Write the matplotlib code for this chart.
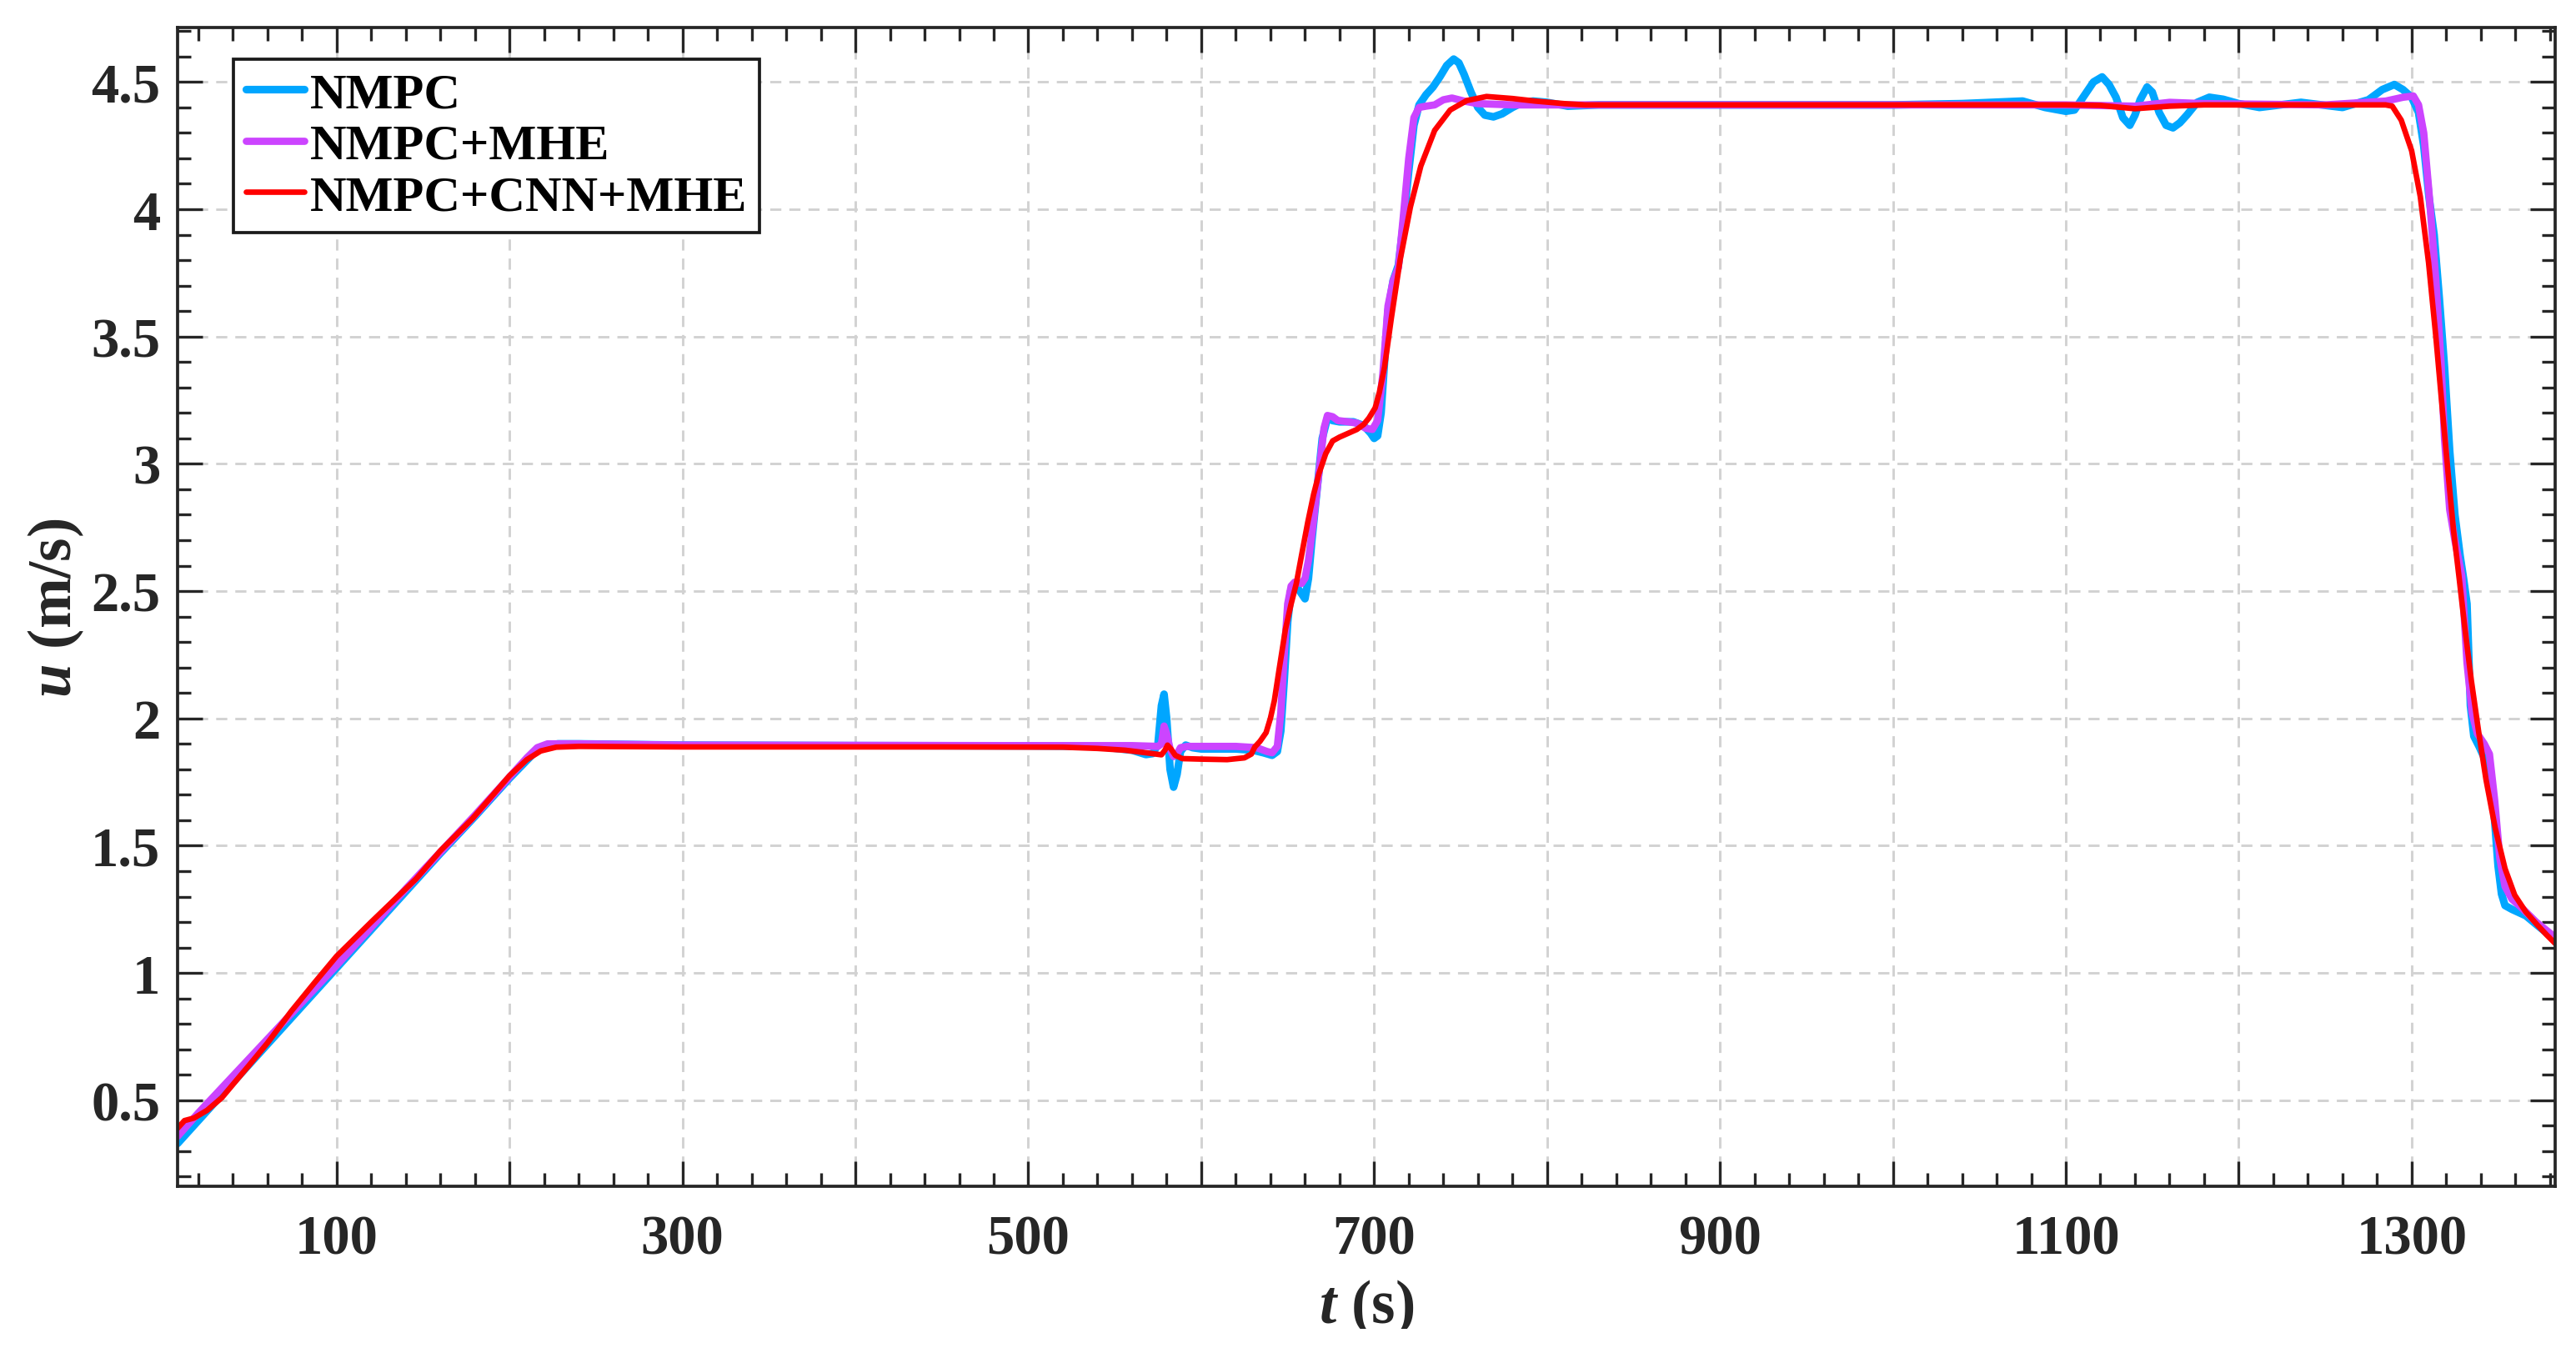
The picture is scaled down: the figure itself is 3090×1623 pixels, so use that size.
import numpy as np
import matplotlib
matplotlib.use("Agg")
import matplotlib.pyplot as plt
from matplotlib.ticker import AutoMinorLocator
from matplotlib.transforms import Bbox

# ---------------- data ----------------
t_nmpc = [8, 20, 40, 60, 80, 100, 120, 140, 160, 180, 200, 210, 215, 220, 228, 240, 300, 400, 500,
          540, 560, 568, 572, 575, 577, 578.5, 580, 582, 584, 586, 588, 591, 595, 600, 620, 630, 636,
          641, 644, 646, 648, 650, 652, 654, 657, 660, 662, 664, 667, 670, 673, 676, 680, 688, 694,
          698, 700, 702, 704, 706, 708, 711, 714, 717, 720, 723, 726, 730, 734, 738, 742, 746, 749,
          752, 756, 760, 764, 769, 774, 780, 786, 792, 800, 812, 830, 900, 1000, 1040, 1075, 1088,
          1100, 1105, 1110, 1116, 1121, 1125, 1129, 1133, 1137, 1140, 1143, 1147, 1150, 1154, 1158,
          1162, 1166, 1170, 1176, 1183, 1191, 1200, 1212, 1236, 1260, 1275, 1283, 1290, 1295, 1300,
          1304, 1307, 1310, 1313, 1316, 1319, 1322, 1325, 1328, 1330, 1332, 1334, 1336, 1339, 1343,
          1346, 1348, 1350, 1352, 1354, 1358, 1366, 1374, 1383]
u_nmpc = [0.33, 0.42, 0.57, 0.72, 0.87, 1.02, 1.17, 1.32, 1.47, 1.615, 1.765, 1.835, 1.87, 1.89, 1.9,
          1.9, 1.895, 1.893, 1.892, 1.89, 1.875, 1.858, 1.862, 1.9, 2.05, 2.095, 2.0, 1.8, 1.73, 1.78,
          1.87, 1.895, 1.885, 1.88, 1.88, 1.875, 1.865, 1.855, 1.87, 1.95, 2.15, 2.38, 2.5, 2.53, 2.5,
          2.47, 2.55, 2.7, 2.9, 3.1, 3.18, 3.17, 3.165, 3.165, 3.15, 3.12, 3.10, 3.11, 3.2, 3.4, 3.6,
          3.72, 3.78, 3.95, 4.15, 4.33, 4.41, 4.45, 4.48, 4.52, 4.565, 4.59, 4.575, 4.53, 4.46, 4.40,
          4.37, 4.363, 4.375, 4.40, 4.42, 4.425, 4.42, 4.405, 4.41, 4.41, 4.41, 4.415, 4.425, 4.40,
          4.385, 4.39, 4.44, 4.50, 4.52, 4.49, 4.44, 4.36, 4.33, 4.37, 4.43, 4.48, 4.46, 4.38, 4.33,
          4.32, 4.34, 4.37, 4.42, 4.44, 4.432, 4.415, 4.40, 4.42, 4.40, 4.43, 4.47, 4.49, 4.47, 4.44,
          4.38, 4.25, 4.05, 3.90, 3.65, 3.38, 3.05, 2.80, 2.64, 2.55, 2.45, 2.05, 1.93, 1.89, 1.83,
          1.75, 1.6, 1.42, 1.31, 1.265, 1.25, 1.225, 1.18, 1.13]

t_mhe = [8, 20, 40, 60, 80, 100, 120, 140, 160, 180, 200, 210, 216, 222, 240, 300, 500, 560, 575,
         577, 578.5, 580, 582, 584, 586, 588, 592, 620, 632, 638, 641, 644, 646, 648, 650, 652, 654,
         658, 660, 662, 665, 668, 671, 673, 676, 679, 685, 690, 695, 699, 702, 705, 708, 711, 714,
         717, 720, 723, 726, 730, 735, 740, 745, 752, 760, 780, 1000, 1100, 1140, 1160, 1180, 1250,
         1285, 1295, 1301, 1304, 1307, 1310, 1314, 1317, 1319, 1322, 1325, 1329, 1332, 1335, 1338,
         1342, 1345, 1348, 1351, 1354, 1358, 1363, 1372, 1383]
u_mhe = [0.358, 0.45, 0.595, 0.74, 0.885, 1.03, 1.18, 1.33, 1.475, 1.62, 1.77, 1.845, 1.885, 1.9, 1.9,
         1.895, 1.893, 1.893, 1.89, 1.9, 1.97, 1.94, 1.88, 1.85, 1.86, 1.885, 1.89, 1.89, 1.885, 1.87,
         1.865, 1.89, 2.02, 2.25, 2.45, 2.52, 2.535, 2.53, 2.55, 2.62, 2.78, 2.96, 3.14, 3.19, 3.185,
         3.17, 3.165, 3.16, 3.14, 3.135, 3.17, 3.35, 3.62, 3.72, 3.77, 3.98, 4.2, 4.36, 4.40, 4.405,
         4.41, 4.43, 4.437, 4.425, 4.415, 4.41, 4.41, 4.41, 4.405, 4.42, 4.415, 4.41, 4.425, 4.44,
         4.445, 4.41, 4.3, 4.07, 3.72, 3.4, 3.1, 2.82, 2.7, 2.56, 2.22, 2.02, 1.94, 1.9, 1.86, 1.68,
         1.45, 1.34, 1.29, 1.26, 1.2, 1.14]

t_cnn = [8, 12, 17.5, 25, 33.6, 41, 49.7, 60, 73.8, 87, 100, 120, 146, 160, 178.5, 200, 210, 218, 227,
         240, 300, 450, 520, 540, 556, 568, 577, 579, 580.5, 582.5, 585, 589, 600, 615, 625, 629, 631,
         634, 637.5, 640, 642.3, 645, 648.7, 652, 655, 658, 661.6, 665, 668, 672, 676, 680, 685, 690,
         694, 697, 700.6, 703, 706, 710, 715, 721, 727, 735, 744, 753.6, 765, 780, 793, 810, 822,
         1100, 1120, 1140, 1160, 1180, 1285, 1288.8, 1294, 1300, 1305, 1309.8, 1314, 1317.8, 1321,
         1324.2, 1327.5, 1330.7, 1334.5, 1338.7, 1343, 1348.3, 1354, 1359.6, 1366, 1372.5, 1378, 1383]
u_cnn = [0.39, 0.42, 0.43, 0.46, 0.51, 0.57, 0.64, 0.725, 0.85, 0.96, 1.066, 1.2, 1.37, 1.48, 1.606,
         1.775, 1.838, 1.872, 1.887, 1.89, 1.888, 1.888, 1.887, 1.882, 1.875, 1.865, 1.857, 1.875,
         1.895, 1.88, 1.855, 1.842, 1.84, 1.838, 1.845, 1.86, 1.888, 1.91, 1.944, 2.0, 2.07, 2.19,
         2.35, 2.45, 2.53, 2.64, 2.77, 2.88, 2.96, 3.04, 3.09, 3.105, 3.12, 3.135, 3.155, 3.18, 3.22,
         3.28, 3.38, 3.575, 3.8, 4.01, 4.17, 4.31, 4.39, 4.427, 4.443, 4.435, 4.425, 4.415, 4.41,
         4.41, 4.408, 4.395, 4.405, 4.41, 4.41, 4.405, 4.35, 4.23, 4.05, 3.79, 3.5, 3.21, 2.97, 2.74,
         2.55, 2.36, 2.15, 1.95, 1.76, 1.57, 1.41, 1.306, 1.24, 1.19, 1.15, 1.116]

series_names = ["NMPC", "NMPC+MHE", "NMPC+CNN+MHE"]
series_colors = ["#00A6FF", "#CC44FF", "#FF0000"]

x_tick_values = [100, 200, 300, 400, 500, 600, 700, 800, 900, 1000, 1100, 1200, 1300]
x_tick_labels = ["100", "", "300", "", "500", "", "700", "", "900", "", "1100", "", "1300"]
y_tick_values = [0.5, 1, 1.5, 2, 2.5, 3, 3.5, 4, 4.5]
y_tick_labels = ["0.5", "1", "1.5", "2", "2.5", "3", "3.5", "4", "4.5"]

# ---------------- style ----------------
plt.rcParams["font.family"] = ["Liberation Serif", "DejaVu Serif"]
plt.rcParams["font.weight"] = "bold"
plt.rcParams["mathtext.fontset"] = "custom"
plt.rcParams["mathtext.it"] = "Liberation Serif:italic:bold"
plt.rcParams["mathtext.rm"] = "Liberation Serif:bold"
plt.rcParams["lines.scale_dashes"] = False

txt_col = "#262626"

fig = plt.figure(figsize=(10.3, 5.41333), dpi=300)
ax = fig.add_axes([213 / 3090, 1 - 1424 / 1624, (3065 - 213) / 3090, (1424 - 34) / 1624])

lws = [2.2, 2.1, 1.6]
for t, u, name, col, lw in zip([t_nmpc, t_mhe, t_cnn], [u_nmpc, u_mhe, u_cnn],
                               series_names, series_colors, lws):
    ax.plot(t, u, color=col, lw=lw, label=name, solid_joinstyle="round", solid_capstyle="round")

ax.set_xlim(8, 1383)
ax.set_ylim(0.162, 4.714)

ax.set_xticks(x_tick_values)
ax.set_xticklabels(x_tick_labels)
ax.set_yticks(y_tick_values)
ax.set_yticklabels(y_tick_labels)
ax.xaxis.set_minor_locator(AutoMinorLocator(5))
ax.yaxis.set_minor_locator(AutoMinorLocator(5))

ax.tick_params(which="both", direction="in", top=True, right=True, colors=txt_col, width=0.8)
ax.tick_params(which="major", length=7.2, labelsize=16)
ax.tick_params(which="minor", length=3.9)
ax.tick_params(axis="y", which="major", pad=5)
ax.tick_params(axis="x", which="major", pad=8)
for lab in ax.get_xticklabels() + ax.get_yticklabels():
    lab.set_fontweight("bold")

for sp in ax.spines.values():
    sp.set_linewidth(0.9)
    sp.set_color(txt_col)

ax.set_axisbelow(True)
ax.grid(True, which="major", color="#d2d2d2", lw=0.7, linestyle=(0, (3.2, 2.3)))

xl = ax.set_xlabel(r"$t$ (s)", fontsize=17.5, fontweight="bold", color=txt_col)
ax.xaxis.set_label_coords(0.5, -0.079)
yl = ax.set_ylabel(r"$u$ (m/s)", fontsize=17.5, fontweight="bold", color=txt_col)
ax.yaxis.set_label_coords(-0.0386, 0.5)

# the reference crops the bottom of the x label
clip = Bbox.from_extents(0, 29, 3090, 1624)
xl.set_clip_box(clip)
xl.set_clip_on(True)

leg = ax.legend(loc="upper left", bbox_to_anchor=(0.0235, 0.9727), borderaxespad=0,
                fancybox=False, framealpha=1, edgecolor="#1a1a1a",
                prop={"family": "Liberation Serif", "weight": "bold", "size": 14.5},
                handlelength=1.15, handletextpad=0.12, labelspacing=0.1, borderpad=0.25)
leg.get_frame().set_linewidth(0.9)

fig.savefig("out.png", dpi=300, facecolor="white")
